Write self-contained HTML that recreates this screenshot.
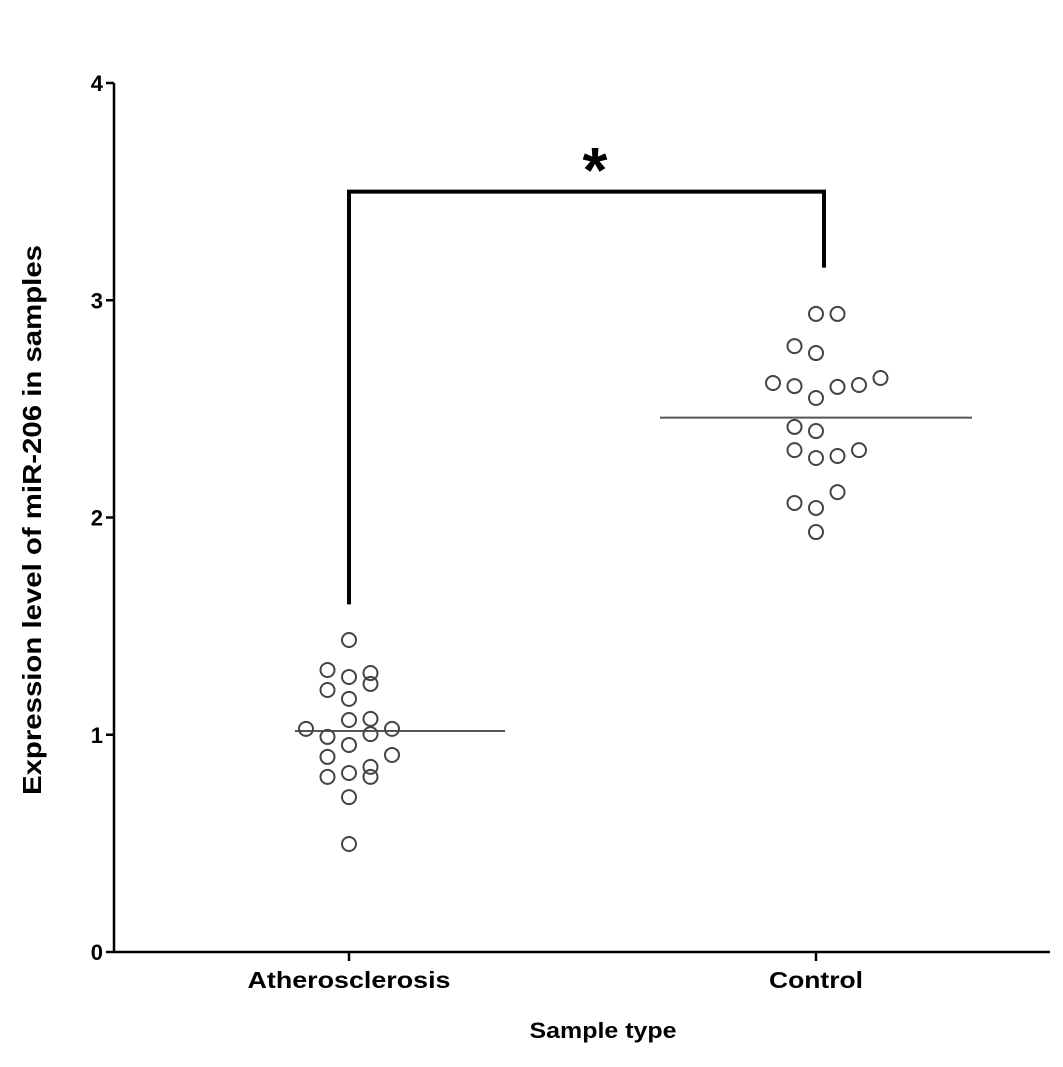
<!DOCTYPE html>
<html><head><meta charset="utf-8"><style>
body{margin:0;background:#fff;width:1063px;height:1067px;overflow:hidden}
svg{display:block;font-family:"Liberation Sans",Arial,sans-serif;font-weight:bold}
</style></head><body>
<svg id="chart" width="1063" height="1067" viewBox="0 0 1063 1067"></svg>
<script>
const categories = ["Atherosclerosis","Control"];
const atheroValues = [1.436,1.298,1.266,1.284,1.234,1.206,1.165,1.068,1.073,1.027,1.027,1.003,0.990,0.953,0.898,0.907,0.852,0.806,0.806,0.824,0.713,0.497];
const atheroColumns = [0,-1,0,1,1,-1,0,0,1,-2,2,1,-1,0,-1,2,1,1,-1,0,0,0];
const controlValues = [2.937,2.937,2.789,2.757,2.619,2.605,2.550,2.601,2.610,2.642,2.417,2.398,2.310,2.274,2.283,2.310,2.117,2.067,2.044,1.933];
const controlColumns = [0,1,-1,0,-2,-1,0,1,2,3,-1,0,-1,0,1,2,1,-1,0,0];
const medians = [1.017,2.46];
const yTicks = [0,1,2,3,4];
const bracket = {left:1.6,right:3.15,top:3.5};

const svg=document.getElementById('chart');
const NS='http://www.w3.org/2000/svg';
const y0=952,yTop=83,ymax=4;
const yScale=v=>y0-(v/ymax)*(y0-yTop);
const xCenters=[349,816];
const xScale=i=>xCenters[i];
const colW=21.5;
function el(t,a,p){const e=document.createElementNS(NS,t);for(const k in a)e.setAttribute(k,a[k]);(p||svg).appendChild(e);return e;}

let e;
e=el('line',{x1:114,y1:yTop,x2:114,y2:y0,stroke:'#000','stroke-width':2.5});


e=el('line',{x1:113,y1:y0,x2:1050,y2:y0,stroke:'#000','stroke-width':2.5});


yTicks.forEach(t=>{
  const y=yScale(t);
  e=el('line',{x1:106,y1:y,x2:114,y2:y,stroke:'#000','stroke-width':2.5});
  
  
  e=el('text',{x:103,y:y+8,'text-anchor':'end','font-size':22});
  e.textContent=t;
  
  
});
const labelLen=[203,94];
categories.forEach((c,i)=>{
  const x=xScale(i);
  e=el('line',{x1:x,y1:y0,x2:x,y2:961,stroke:'#000','stroke-width':2.5});
  
  
  e=el('text',{x:x,y:988,'text-anchor':'middle','font-size':23,textLength:labelLen[i],lengthAdjust:'spacingAndGlyphs'});
  e.textContent=c;
  
  
});
e=el('text',{x:603,y:1038,'text-anchor':'middle','font-size':22,textLength:147,lengthAdjust:'spacingAndGlyphs'});
e.textContent='Sample type';


e=el('text',{x:0,y:0,'text-anchor':'middle','font-size':26,textLength:550,lengthAdjust:'spacingAndGlyphs',transform:'translate(41,520) rotate(-90)'});
e.textContent='Expression level of  miR-206 in samples';



const medLeft=[295,660], medRight=[505,972];
medians.forEach((m,i)=>{
  e=el('line',{x1:medLeft[i],y1:yScale(m),x2:medRight[i],y2:yScale(m),stroke:'#555','stroke-width':2});
  
  
});
function drawPoints(vals,cols,i,name){
  vals.forEach((v,k)=>{
    e=el('circle',{cx:xScale(i)+cols[k]*colW,cy:yScale(v),r:7,fill:'none',stroke:'#444','stroke-width':2});
    
    
  });
}
drawPoints(atheroValues,atheroColumns,0,'atherosclerosis-point');
drawPoints(controlValues,controlColumns,1,'control-point');

e=el('path',{d:`M${xScale(0)} ${yScale(bracket.left)} V${yScale(bracket.top)} H${xScale(1)+8} V${yScale(bracket.right)}`,fill:'none',stroke:'#000','stroke-width':4});


e=el('text',{x:595,y:192,'text-anchor':'middle','font-size':64});
e.textContent='*';


</script>
</body></html>
